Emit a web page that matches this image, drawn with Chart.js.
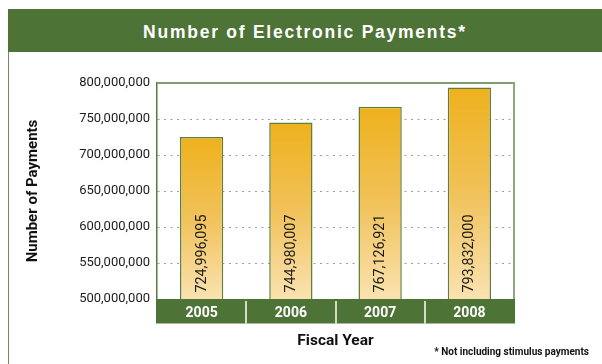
<!DOCTYPE html>
<html>
<head>
<meta charset="utf-8">
<script src="https://cdn.jsdelivr.net/npm/chart.js@4.4.1/dist/chart.umd.min.js"></script>
<style>
  html, body { margin: 0; padding: 0; background: #fff; }
  #wrap { position: relative; width: 602px; height: 364px; overflow: hidden; }
  #chart { position: absolute; left: 0; top: 0; }
  #header {
    position: absolute; left: 8px; top: 9px; width: 594px; height: 43px;
    background: #4e7337; color: #fff; text-align: center;
    font: bold 17.5px "Liberation Sans", Arial, sans-serif; letter-spacing: 1.75px;
    line-height: 46px;
  }
  #frame { position: absolute; left: 8px; top: 52px; width: 1px; height: 312px; background: #6f8c5c; }
  #note {
    position: absolute; right: 13px; top: 346px;
    font: bold 10px Roboto, Arial, sans-serif; color: #111;
  }
</style>
</head>
<body>
<div id="wrap">
  <canvas id="chart" width="602" height="364"></canvas>
  <div id="header">Number of Electronic Payments*</div>
  <div id="frame"></div>
  <div id="note">* Not including stimulus payments</div>
</div>
<script>
const years = ['2005', '2006', '2007', '2008'];
const payments = [724996095, 744980007, 767126921, 793832000];
const yTicks = [500000000, 550000000, 600000000, 650000000, 700000000, 750000000, 800000000];

const face = 'Roboto, Arial, sans-serif';
const green = '#4e7337';

function fmt(v) {
    return v.toLocaleString('en-US');
}

// gold gradient running from each bar's top down to the axis
function barFill(context) {
    const chart = context.chart;
    const area = chart.chartArea;
    if (!area || context.type !== 'data') return '#f0b52a';
    const top = chart.scales.y.getPixelForValue(context.raw);
    const g = chart.ctx.createLinearGradient(0, top, 0, area.bottom);
    g.addColorStop(0, '#eeb11d');
    g.addColorStop(0.5, '#f1c25a');
    g.addColorStop(1, '#fae2b0');
    return g;
}

// green band behind the year labels, split per category, plus the plot frame
const yearBand = {
    id: 'yearBand',
    beforeDraw(chart) {
        const { ctx, chartArea } = chart;
        const x = chart.scales.x;
        ctx.save();
        ctx.fillStyle = green;
        ctx.fillRect(chartArea.left - 1, chartArea.bottom, chartArea.right - chartArea.left + 2, 24.5);
        ctx.strokeStyle = '#fff';
        ctx.lineWidth = 1.5;
        for (let i = 1; i < years.length; i++) {
            const sx = Math.round((x.getPixelForValue(i - 1) + x.getPixelForValue(i)) / 2);
            ctx.beginPath();
            ctx.moveTo(sx, chartArea.bottom + 2);
            ctx.lineTo(sx, chartArea.bottom + 24.5);
            ctx.stroke();
        }
        ctx.restore();
    },
    beforeDatasetsDraw(chart) {
        const { ctx, chartArea } = chart;
        ctx.save();
        ctx.lineWidth = 2;
        ctx.strokeStyle = '#829c71';
        ctx.beginPath();
        ctx.moveTo(chartArea.left, chartArea.top);
        ctx.lineTo(chartArea.right, chartArea.top);
        ctx.stroke();
        ctx.strokeStyle = '#8aab79';
        ctx.beginPath();
        ctx.moveTo(chartArea.right, chartArea.top - 1);
        ctx.lineTo(chartArea.right, chartArea.bottom);
        ctx.stroke();
        ctx.restore();
    }
};

// vertical value labels inside the bars, reading upward from the axis
const barValues = {
    id: 'barValues',
    afterDatasetsDraw(chart) {
        const { ctx } = chart;
        const bottom = chart.scales.y.getPixelForValue(yTicks[0]);
        const meta = chart.getDatasetMeta(0);
        ctx.save();
        ctx.fillStyle = '#1a1a1a';
        ctx.font = '14.3px ' + face;
        ctx.textAlign = 'left';
        ctx.textBaseline = 'middle';
        meta.data.forEach((bar, i) => {
            ctx.save();
            ctx.translate(bar.x + 0.5, bottom - 6.5);
            ctx.rotate(-Math.PI / 2);
            ctx.fillText(fmt(payments[i]), 0, 0);
            ctx.restore();
        });
        ctx.restore();
    }
};

new Chart(document.getElementById('chart'), {
    type: 'bar',
    data: {
        labels: years,
        datasets: [{
            data: payments,
            backgroundColor: barFill,
            borderColor: '#617f38',
            borderWidth: 1.5,
            borderSkipped: 'start',
            categoryPercentage: 1,
            barPercentage: 0.485
        }]
    },
    options: {
        responsive: false,
        animation: false,
        layout: { padding: { left: 0, top: 83, right: 88, bottom: 0 } },
        plugins: {
            legend: { display: false },
            tooltip: { enabled: false }
        },
        scales: {
            x: {
                grid: { display: false, drawTicks: false },
                border: { display: false },
                ticks: {
                    color: '#ffffff',
                    padding: 6,
                    font: { family: face, size: 14, weight: 'bold' }
                },
                title: {
                    display: true,
                    text: 'Fiscal Year',
                    color: '#111',
                    font: { family: face, size: 15.5, weight: 'bold' },
                    padding: { top: 0, bottom: 13.5 }
                },
                afterFit: s => { s.height = 65; }
            },
            y: {
                min: 500000000,
                max: 800000000,
                afterBuildTicks: axis => { axis.ticks = yTicks.map(v => ({ value: v })); },
                grid: {
                    drawTicks: false,
                    color: c => (c.tick && c.tick.value > 500000000 && c.tick.value < 800000000) ? '#9c9c9c' : 'rgba(0,0,0,0)',
                    lineWidth: 1
                },
                border: { display: true, color: '#587843', width: 1.5, dash: [2, 4.5] },
                ticks: {
                    color: '#1c1c1c',
                    padding: 7,
                    font: { family: face, size: 13 },
                    callback: v => fmt(v)
                },
                title: {
                    display: true,
                    text: 'Number of Payments',
                    color: '#111',
                    font: { family: face, size: 15, weight: 'bold' },
                    padding: { top: 24, bottom: 0 }
                },
                afterFit: s => { s.width = 157; }
            }
        }
    },
    plugins: [yearBand, barValues]
});
</script>
</body>
</html>
